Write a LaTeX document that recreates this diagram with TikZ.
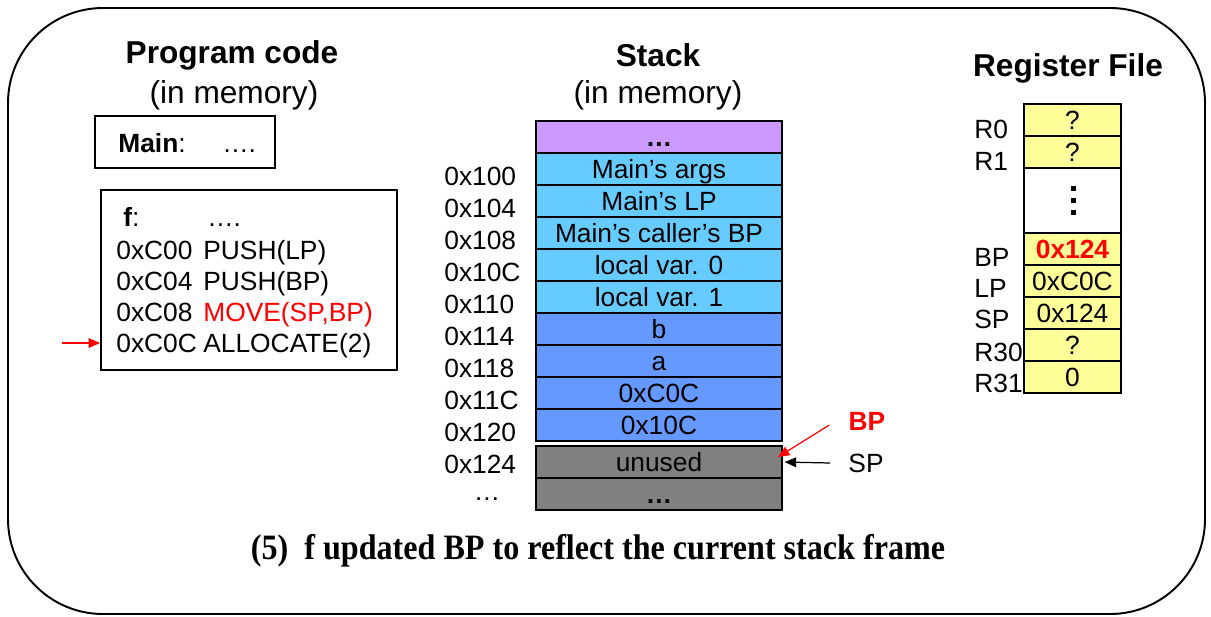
\documentclass[tikz,border=0pt]{standalone}
\usepackage{fontspec}
\setmainfont{Liberation Sans}
\newfontfamily\capfont[FakeStretch=0.9]{Liberation Serif}
\definecolor{stackpurple}{HTML}{CC99FF}
\definecolor{stackcyan}{HTML}{66CCFF}
\definecolor{stackblue}{HTML}{6699FF}
\definecolor{stackgrey}{HTML}{808080}
\definecolor{regyellow}{HTML}{FFFF99}
\usetikzlibrary{arrows.meta,positioning}

\begin{document}
\begin{tikzpicture}[x=0.02cm, y=-0.02cm,
    txt/.style={font=\fontsize{15}{18}\selectfont, inner sep=0pt,
                text height=13.8pt, text depth=3pt},
    ttl/.style={font=\bfseries\fontsize{18}{22}\selectfont, inner sep=0pt},
    sub/.style={font=\fontsize{18}{22}\selectfont, inner sep=0pt},
    frame/.style={draw, line width=1.1pt},
    cell/.style={txt, frame, minimum width=4.92cm, minimum height=0.64cm},
    reg/.style={txt, frame, fill=regyellow, minimum width=1.94cm,
                minimum height=0.64cm},
    arr/.style={-{Triangle[length=6.5pt,width=5.5pt]}, line width=0.7pt}
  ]
    \useasboundingbox (0,0) rectangle (1211,616);
    \draw[line width=1.1pt, rounded corners=1.9cm] (8,8) rectangle (1205,614);

    \node[ttl] (pctitle) at (232,55) {Program code};
    \node[sub] (pcsub)   at (234,95) {(in memory)};

    \node[frame, minimum width=3.6cm, minimum height=1.04cm] (mainbox) at (185,142) {};
    \node[txt, anchor=west] (mainlbl)  at (118,143) {\textbf{Main}:};
    \node[txt, anchor=west] (maindots) at (222,143) {….};

    \node[frame, minimum width=5.92cm, minimum height=3.6cm] (fcode) at (249,280) {};
    \node[txt, anchor=west] (flbl)  at (123,217) {\textbf{f}:};
    \node[txt, anchor=west] (fdots) at (207,217) {….};
    \node[txt, anchor=west] (ad0) at (116,250) {0xC00};
    \node[txt, anchor=west] (in0) at (203,250) {PUSH(LP)};
    \node[txt, anchor=west] (ad1) at (116,281) {0xC04};
    \node[txt, anchor=west] (in1) at (203,281) {PUSH(BP)};
    \node[txt, anchor=west] (ad2) at (116,312) {0xC08};
    \node[txt, anchor=west, text=red] (in2) at (203,312) {MOVE(SP,BP)};
    \node[txt, anchor=west] (ad3) at (116,343) {0xC0C};
    \node[txt, anchor=west] (in3) at (203,343) {ALLOCATE(2)};

    \coordinate (pc) at (62,343);
    \draw[arr, red] (pc) -- (pc -| fcode.west);

    \node[ttl] (sttitle) at (658,55) {Stack};
    \node[sub] (stsub)   at (658,95) {(in memory)};

    \node[cell, fill=stackpurple] (older)  at (659,137) {\textbf{…}};
    \node[cell, fill=stackcyan]   (margs)  at (659,169) {Main’s args};
    \node[cell, fill=stackcyan]   (mlp)    at (659,201) {Main’s LP};
    \node[cell, fill=stackcyan]   (mbp)    at (659,233) {Main’s caller’s BP};
    \node[cell, fill=stackcyan]   (lvar0)  at (659,265) {local var. 0};
    \node[cell, fill=stackcyan]   (lvar1)  at (659,297) {local var. 1};
    \node[cell, fill=stackblue]   (argb)   at (659,329) {b};
    \node[cell, fill=stackblue]   (arga)   at (659,361) {a};
    \node[cell, fill=stackblue]   (savlp)  at (659,393) {0xC0C};
    \node[cell, fill=stackblue]   (savbp)  at (659,425) {0x10C};
    \node[cell, fill=stackgrey]   (unused) at (659,462) {unused};
    \node[cell, fill=stackgrey]   (free)   at (659,494) {\textbf{…}};

    \node[txt, anchor=west] (a100) at (444,176) {0x100};
    \node[txt, anchor=west] (a104) at (444,208) {0x104};
    \node[txt, anchor=west] (a108) at (444,240) {0x108};
    \node[txt, anchor=west] (a10c) at (444,272) {0x10C};
    \node[txt, anchor=west] (a110) at (444,304) {0x110};
    \node[txt, anchor=west] (a114) at (444,336) {0x114};
    \node[txt, anchor=west] (a118) at (444,368) {0x118};
    \node[txt, anchor=west] (a11c) at (444,400) {0x11C};
    \node[txt, anchor=west] (a120) at (444,432) {0x120};
    \node[txt, anchor=west] (a124) at (444,464) {0x124};
    \node[txt] (amore) at (487,491) {…};

    \node[txt, font=\bfseries\fontsize{15}{18}\selectfont, text=red] (bplbl) at (867,421) {BP};
    \node[txt] (splbl) at (866,463) {SP};
    \coordinate (bptip) at (778,457);
    \draw[arr, red] ([shift={(-19,4)}]bplbl.west) -- (bptip);
    \draw[arr, shorten >=1pt] ([xshift=-0.36cm]splbl.west) -- (unused.east);

    \node[ttl] (rftitle) at (1068,68) {Register File};
    \node[reg] (r0)    at (1072.5,120) {?};
    \node[reg] (r1)    at (1072.5,152) {?};
    \node[reg, fill=white, minimum height=1.3cm] (rdots) at (1072.5,200.5) {};
    \node[reg, font=\bfseries\fontsize{15}{18}\selectfont, text=red] (rbp) at (1072.5,249) {0x124};
    \node[reg] (rlp)   at (1072.5,281) {0xC0C};
    \node[reg] (rsp)   at (1072.5,313) {0x124};
    \node[reg] (r30)   at (1072.5,345) {?};
    \node[reg] (r31)   at (1072.5,377) {0};
    \foreach \y in {188,200,212}
      \fill (1070.5,\y-2.5) rectangle +(5,5);

    \node[txt, anchor=west] (lr0)  at (974,129) {R0};
    \node[txt, anchor=west] (lr1)  at (974,161) {R1};
    \node[txt, anchor=west] (lbp)  at (974,257) {BP};
    \node[txt, anchor=west] (llp)  at (974,288) {LP};
    \node[txt, anchor=west] (lsp)  at (974,319) {SP};
    \node[txt, anchor=west] (lr30) at (974,352) {R30};
    \node[txt, anchor=west] (lr31) at (974,383) {R31};

    \node[font=\capfont\bfseries\fontsize{20.3}{24}\selectfont] (caption) at (598,551)
      {(5)\ \ f updated BP to reflect the current stack frame};
  \end{tikzpicture}
\end{document}
